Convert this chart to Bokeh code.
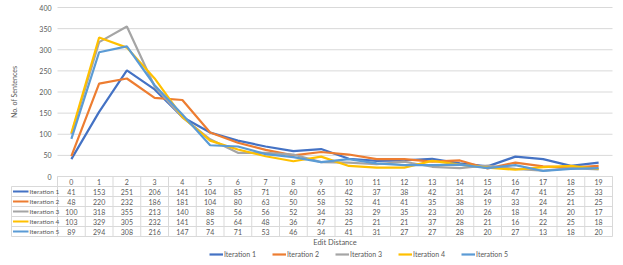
import math
from bokeh.plotting import figure
from bokeh.models import Range1d, LegendItem, Legend
from bokeh.core.properties import value
from bokeh.embed import file_html
from bokeh.resources import INLINE

# ---- data ----
edit_distance = list(range(20))
series_names = ["Iteration 1", "Iteration 2", "Iteration 3", "Iteration 4", "Iteration 5"]
iteration_1 = [41, 153, 251, 206, 141, 104, 85, 71, 60, 65, 42, 37, 38, 42, 31, 24, 47, 41, 25, 33]
iteration_2 = [48, 220, 232, 186, 181, 104, 80, 63, 50, 58, 52, 41, 41, 35, 38, 19, 33, 24, 21, 25]
iteration_3 = [100, 318, 355, 213, 140, 88, 56, 56, 52, 34, 33, 29, 35, 23, 20, 26, 18, 14, 20, 17]
iteration_4 = [103, 329, 305, 232, 141, 85, 64, 48, 36, 47, 25, 21, 21, 37, 28, 21, 16, 22, 25, 18]
iteration_5 = [89, 294, 308, 216, 147, 74, 71, 53, 46, 34, 41, 31, 27, 27, 28, 20, 27, 13, 18, 20]
y_ticks = [0, 50, 100, 150, 200, 250, 300, 350, 400]
series_values = [iteration_1, iteration_2, iteration_3, iteration_4, iteration_5]
colors = ["#4472C4", "#ED7D31", "#A5A5A5", "#FFC000", "#5B9BD5"]

FONT = "Lato"
TXT = "#595959"
GRID = "#D9D9D9"

# ---- layout constants (pixels) ----
FIG_W = 623
FIG_H = 265
FRAME_W = 555          # width of the plotting columns
LABEL_PX = 57          # space left of the columns
ZERO_PX = 176          # distance from frame top to y = 0
TOP_TICK_PX = 7        # distance from frame top to highest tick
ROW_PX = 10
col_px = FRAME_W / len(edit_distance)
x0, x1 = -0.5, len(edit_distance) - 0.5
x_start = x0 - LABEL_PX / col_px
x_end = x1 + (FIG_W - LABEL_PX - FRAME_W) / col_px
u = y_ticks[-1] / (ZERO_PX - TOP_TICK_PX)   # data units per pixel (vertical)
y_top = ZERO_PX * u
y_bottom = -(FIG_H - ZERO_PX) * u
row = ROW_PX * u
n_rows = len(series_names) + 1

def xo(px):
    return x_start + px / col_px

p = figure(output_backend="svg", toolbar_location=None, x_axis_location=None, y_axis_location=None,
           width=FIG_W, height=FIG_H,
           min_border_left=0, min_border_right=0, min_border_top=0, min_border_bottom=0,
           x_range=Range1d(x_start, x_end), y_range=Range1d(y_bottom, y_top))
p.outline_line_color = None
p.grid.visible = False

# y gridlines and tick labels
p.segment(x0=[x0] * len(y_ticks), x1=[x1] * len(y_ticks), y0=y_ticks, y1=y_ticks,
          line_color=GRID, line_width=1)
p.text(x=[x0] * len(y_ticks), y=y_ticks, text=[str(t) for t in y_ticks], x_offset=-6,
       text_align="right", text_baseline="middle", text_font=value(FONT),
       text_font_size="7px", text_color=TXT)
p.text(x=[xo(13)], y=[(y_ticks[0] + y_ticks[-1]) / 2], text=["No. of Sentences"], angle=math.pi / 2,
       text_align="center", text_baseline="middle", text_font=value(FONT),
       text_font_size="7px", text_color=TXT)

# series lines
for vals, c in zip(series_values, colors):
    p.line(edit_distance, vals, line_color=c, line_width=2.2)

# ---- data table ----
hx0, hx1, hy = [x0], [x1], [0]
for r in range(1, n_rows + 1):
    hx0.append(xo(11)); hx1.append(x1); hy.append(-r * row)
p.segment(x0=hx0, x1=hx1, y0=hy, y1=hy, line_color=GRID, line_width=1)
vx, vy0, vy1 = [], [], []
for i in range(len(edit_distance) + 1):
    vx.append(x0 + i); vy0.append(0); vy1.append(-n_rows * row)
vx.append(xo(11)); vy0.append(-row); vy1.append(-n_rows * row)
p.segment(x0=vx, x1=vx, y0=vy0, y1=vy1, line_color=GRID, line_width=1)

# header
p.text(x=edit_distance, y=[-0.5 * row] * len(edit_distance), text=[str(v) for v in edit_distance],
       text_align="center", text_baseline="middle", text_font=value(FONT),
       text_font_size="7px", text_color=TXT)
# values
tx, ty, tt = [], [], []
for k, vals in enumerate(series_values):
    for i, v in enumerate(vals):
        tx.append(edit_distance[i]); ty.append(-(k + 1.5) * row); tt.append(str(v))
p.text(x=tx, y=ty, text=tt, text_align="center", text_baseline="middle",
       text_font=value(FONT), text_font_size="7px", text_color=TXT)
# row labels with swatches
ry = [-(k + 1.5) * row for k in range(len(series_names))]
sw = p.segment(x0=[xo(12.5)] * len(ry), x1=[xo(28)] * len(ry), y0=ry, y1=ry,
               line_color=colors, line_width=2.2)
p.text(x=[xo(29)] * len(ry), y=ry, text=series_names, text_align="left",
       text_baseline="middle", text_font=value(FONT), text_font_size="6.5px", text_color=TXT)

# axis title
p.text(x=[(x0 + x1) / 2], y=[-(n_rows * ROW_PX + 6) * u], text=["Edit Distance"], text_align="center",
       text_baseline="middle", text_font=value(FONT), text_font_size="7.5px", text_color=TXT)

# legend (uses the table swatches)
items = [LegendItem(label=name, renderers=[sw], index=k) for k, name in enumerate(series_names)]
lg = Legend(items=items, orientation="horizontal", location=(209, 7),
            border_line_color=None, background_fill_alpha=0, padding=0, margin=0,
            spacing=16, glyph_width=14, glyph_height=8, label_height=8, label_standoff=1,
            label_text_font=FONT, label_text_font_size="7px", label_text_color=TXT)
p.add_layout(lg, "center")

open("out.html", "w").write(file_html(p, INLINE))
